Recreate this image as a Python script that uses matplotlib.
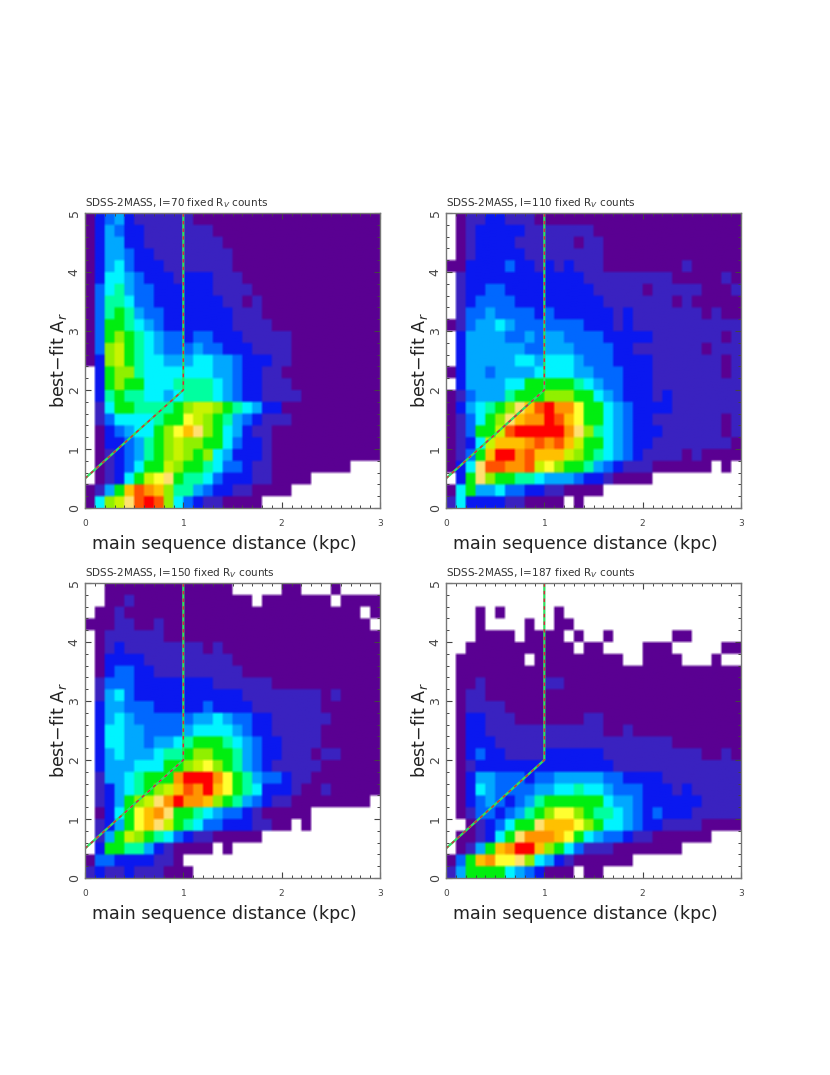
import numpy as np
import matplotlib
matplotlib.use("Agg")
import matplotlib.pyplot as plt
from matplotlib.colors import ListedColormap, BoundaryNorm

# colour level per cell (0 = lowest counts, 15 = highest, -1 = empty bin)
# every row goes from d=0 upwards, top row (A_r 4.8-5.0) first; short rows are padded with 0
counts_70 = [
    [0,2,3,4,2,1,1,1,1,1,1],
    [0,2,4,3,2,2,1,1,1,1,1,1,1],
    [0,2,4,4,2,2,1,1,1,1,1,1,1,1],
    [0,2,4,4,3,2,2,1,1,1,1,1,1,1,1],
    [0,2,4,5,3,2,2,2,1,1,1,1,1,1,1],
    [0,2,5,5,4,3,2,2,2,1,2,2,2,1,1,1],
    [0,3,5,6,4,3,3,2,2,2,2,2,2,1,1,1,1],
    [0,3,6,6,5,3,3,2,2,2,2,2,2,2,1,1,0,1],
    [0,3,6,7,6,4,3,3,2,2,2,2,2,2,2,1,1,1],
    [0,3,7,7,6,5,4,3,2,2,2,2,2,2,2,1,1,1,1],
    [0,3,7,8,7,6,5,4,3,3,2,3,3,2,2,2,1,1,1,1,1],
    [0,3,8,9,7,6,5,4,3,3,3,4,3,3,2,2,2,1,1,1,1],
    [0,2,8,9,7,6,5,5,4,4,4,5,5,4,4,3,2,2,2,1,1],
    [-1,2,7,8,8,6,5,5,5,5,5,5,5,4,4,3,2,2,1,1],
    [-1,2,7,8,7,7,5,5,5,6,6,6,6,5,4,3,2,2,1,1,1],
    [-1,2,6,7,6,6,5,5,4,5,6,6,6,5,4,3,2,2,1,1,1,1],
    [-1,1,5,7,7,6,6,6,6,7,8,9,9,8,7,6,5,4,2,2],
    [-1,1,3,5,5,5,5,6,7,7,10,9,8,7,6,4,3,2,1,1,1],
    [-1,0,2,3,4,5,5,7,8,10,12,11,8,7,5,4,2,1,1],
    [-1,0,2,2,3,4,6,7,8,9,8,8,7,7,5,3,2,2,1],
    [-1,0,1,2,3,4,6,7,8,9,8,7,8,5,4,2,2,2,1],
    [-1,0,1,2,3,5,7,7,9,8,7,7,6,5,3,3,2,1,1,0,0,0,0,0,0,0,0,-1,-1,-1],
    [-1,0,1,2,5,7,9,10,11,7,6,6,5,3,2,2,2,1,1,0,0,0,0,-1,-1,-1,-1,-1,-1,-1],
    [0,1,4,7,12,14,13,12,8,6,6,4,3,2,2,1,1,0,0,0,0,-1,-1,-1,-1,-1,-1,-1,-1,-1],
    [0,5,8,9,11,14,15,14,8,5,3,2,1,1,0,0,0,0,-1,-1,-1,-1,-1,-1,-1,-1,-1,-1,-1,-1],
]

counts_110 = [
    [-1,0,1,1,2,2,1,1,1],
    [-1,0,1,2,2,2,2,2,1,1,1,1,1,1,1],
    [-1,0,1,2,2,2,2,1,1,1,1,1,1,0,1,1],
    [-1,0,1,2,2,2,2,2,1,1,1,1,1,1,1,1],
    [0,0,2,2,2,2,3,2,2,1,2,1,2,1,1,1,0,0,0,0,0,0,0,0,1],
    [-1,1,2,2,2,2,2,2,2,2,2,2,2,2,1,1,1,1,1,1,1,1,1,0,0,0,0,0,1,0],
    [-1,1,2,2,3,3,2,2,2,2,2,2,2,2,2,1,1,1,1,1,0,1,1,1,1,1,0,0,0,1],
    [-1,1,2,3,3,3,3,2,2,2,2,2,2,2,2,2,1,1,1,1,1,1,1,0,1,0,0,0,0,0],
    [-1,1,3,3,4,3,3,3,3,2,3,2,2,2,2,2,2,1,2,1,1,1,1,1,1,1,0,1,0,0],
    [0,1,3,4,4,5,4,3,3,3,3,3,3,3,2,2,2,1,2,1,1,1,1,1,1,1,1,1,1,1],
    [-1,2,4,4,4,4,3,3,4,3,4,4,3,3,3,3,2,2,2,2,2,1,1,1,1,1,1,1,0,1],
    [-1,2,4,4,4,4,4,4,3,3,4,4,4,3,3,3,3,2,2,1,1,1,1,1,1,1,0,1,1,1],
    [-1,2,4,4,4,4,4,5,5,4,5,5,5,4,3,3,3,2,2,2,2,1,1,1,1,1,1,1,0,1],
    [0,2,4,4,3,4,4,4,4,5,5,5,5,4,4,3,3,3,2,2,2,1,1,1,1,1,1,1,0,1],
    [-1,2,4,4,4,4,5,5,7,7,7,7,7,6,5,4,3,3,2,2,2,1,1,1,1,1,1,1,1,1],
    [0,1,3,4,4,4,6,7,7,7,8,8,8,7,7,5,4,3,2,2,2,1,2,1,1,1,1,1,1,1],
    [0,2,4,5,6,7,8,11,12,14,15,13,13,10,7,7,5,4,3,2,2,2,2,1,1,1,1,1,1,1],
    [0,1,3,5,7,8,11,12,13,13,15,14,12,10,7,7,5,4,3,2,2,1,1,1,1,1,1,1,0,1],
    [0,1,3,7,7,9,14,15,15,15,15,15,13,11,8,6,5,4,3,2,2,2,1,1,1,1,1,1,0,1],
    [0,1,2,5,9,12,12,12,13,14,13,14,12,9,7,7,5,4,3,2,2,1,1,1,1,1,1,1,1,0],
    [0,1,3,7,12,15,15,13,14,12,12,12,9,8,7,6,5,4,3,2,1,1,1,1,0,1,0,0,0,0],
    [0,2,5,11,14,14,13,13,14,9,10,8,7,7,6,4,3,2,1,1,1,0,0,0,0,0,0,-1,0,-1],
    [-1,2,7,11,8,7,7,6,6,5,4,4,4,3,2,2,1,0,0,0,0,-1,-1,-1,-1,-1,-1,-1,-1,-1],
    [0,5,7,4,4,5,3,3,2,2,1,1,0,0,0,0,-1,-1,-1,-1,-1,-1,-1,-1,-1,-1,-1,-1,-1,-1],
    [1,5,2,2,2,2,1,1,0,0,0,0,-1,0,-1,-1,-1,-1,-1,-1,-1,-1,-1,-1,-1,-1,-1,-1,-1,-1],
]

counts_150 = [
    [-1,-1,0,0,0,0,0,0,0,0,0,0,0,0,0,-1,-1,-1,-1,-1,0,0,-1,-1,-1,0,-1,-1,-1,-1],
    [-1,-1,0,0,1,0,0,0,0,0,0,0,0,0,0,0,0,-1,0,0,0,0,0,0,0,-1,0,0,0,0],
    [-1,0,0,1,0,0,0,0,0,0,0,0,0,0,0,0,0,0,0,0,0,0,0,0,0,0,0,0,-1,0],
    [0,0,0,1,1,0,0,1,0,0,0,0,0,0,0,0,0,0,0,0,0,0,0,0,0,0,0,0,0,-1],
    [-1,0,1,1,1,1,1,1],
    [-1,0,1,2,1,1,1,1,1,1,1,1,0,1],
    [-1,0,2,2,2,2,1,1,1,1,1,1,1,1,1],
    [-1,0,2,3,3,2,2,1,1,1,1,1,1,1,1,1],
    [-1,1,3,3,3,2,2,2,2,2,2,2,2,1,1,1,1,1,1],
    [-1,1,4,5,3,2,2,2,2,2,2,2,2,2,2,2,1,1,1,1,1,1,1,1,0,1],
    [-1,2,4,4,3,3,3,2,2,2,2,2,3,2,2,2,2,1,1,1,1,1,1,1],
    [-1,2,4,5,4,3,3,3,3,3,3,4,4,5,4,3,3,2,2,1,1,1,1,1,1],
    [-1,2,5,5,4,4,3,3,3,3,4,5,5,5,5,4,3,2,2,1,1,1,1,1],
    [-1,2,5,5,4,4,3,4,4,5,6,7,7,7,6,5,4,3,2,2,1,1,1,1],
    [-1,2,4,5,4,4,4,5,6,6,7,8,8,7,7,6,4,3,2,2,1,1,1,0,1,1],
    [-1,2,4,4,4,5,5,5,7,7,8,9,10,8,7,6,4,3,2,1,1,1,1,1],
    [-1,1,4,4,5,6,7,7,7,13,15,15,15,13,10,7,6,4,3,3,2,1,1],
    [-1,1,2,4,5,6,7,8,9,12,14,13,15,12,10,7,6,5,2,2,2,1,0,0,1],
    [-1,1,2,4,7,8,9,11,13,15,13,13,12,8,7,6,4,3,2,1,1,0,0,0,0,0,0,0,0,-1],
    [-1,0,2,5,7,10,12,13,11,7,7,6,5,4,3,3,2,1,0,0,0,0,0,-1,-1,-1,-1,-1,-1,-1],
    [-1,1,2,4,7,10,12,11,9,7,6,5,3,3,2,2,2,1,1,0,0,-1,0,-1,-1,-1,-1,-1,-1,-1],
    [-1,1,4,7,9,8,7,6,5,3,2,1,1,0,0,0,0,0,-1,-1,-1,-1,-1,-1,-1,-1,-1,-1,-1,-1],
    [-1,2,7,7,6,6,4,2,1,0,0,0,0,-1,0,-1,-1,-1,-1,-1,-1,-1,-1,-1,-1,-1,-1,-1,-1,-1],
    [0,3,3,2,2,2,2,1,1,0,-1,-1,-1,-1,-1,-1,-1,-1,-1,-1,-1,-1,-1,-1,-1,-1,-1,-1,-1,-1],
    [1,2,1,1,2,1,1,1,0,0,0,-1,-1,-1,-1,-1,-1,-1,-1,-1,-1,-1,-1,-1,-1,-1,-1,-1,-1,-1],
]

counts_187 = [
    [-1]*30,
    [-1]*30,
    [-1,-1,-1,0,-1,0,-1,-1,-1,-1,-1,0,-1,-1,-1,-1,-1,-1,-1,-1,-1,-1,-1,-1,-1,-1,-1,-1,-1,-1],
    [-1,-1,-1,0,-1,-1,-1,-1,0,-1,-1,0,0,-1,-1,-1,-1,-1,-1,-1,-1,-1,-1,-1,-1,-1,-1,-1,-1,-1],
    [-1,-1,-1,0,0,0,0,-1,0,0,0,0,-1,0,-1,-1,0,-1,-1,-1,-1,-1,-1,0,0,-1,-1,-1,-1,-1],
    [-1,-1,0,0,0,0,0,0,0,0,0,0,0,-1,0,0,-1,-1,-1,-1,0,0,0,-1,-1,-1,-1,-1,0,0],
    [-1,0,0,0,0,0,0,0,-1,0,0,0,0,0,0,0,0,0,-1,-1,0,0,0,0,-1,-1,-1,0,-1,-1],
    [-1,0,0,0,0,0,0,0,0,0,0,0,0,0,0,0,0,0,0,0,0,0,0,0,0,0,0,0,0,0],
    [-1,0,0,1,0,0,0,0,0,0,1,1,0,0,0,0,0,0,0,0,0,0,0,0,0,0,0,0,0,0],
    [-1,0,1,1,0,0,0,0,0,0,0,0,0,0,0,0,0,0,0,0,0,0,0,0,0,0,0,0,0,0],
    [-1,0,1,1,1,1,0],
    [-1,0,2,2,1,1,1,0,0,0,0,0,0,0,1,1],
    [-1,0,2,2,1,1,1,1,1,1,1,1,1,1,1,1,0,0,1],
    [-1,0,2,2,2,1,1,1,1,1,1,1,1,1,1,1,1,1,1,1,1,1,1],
    [-1,0,2,3,2,2,1,1,1,1,2,2,2,2,2,2,1,1,1,1,1,1,1,1,1,1,0,0,1,0],
    [-1,0,1,2,2,2,2,2,2,2,2,2,2,2,2,2,2,1,1,1,1,1,1,1,1,1,1,1,1,1],
    [-1,0,2,4,4,3,3,3,2,3,3,4,4,4,4,4,3,3,2,2,2,2,1,1,1,1,1,1,1,1],
    [-1,0,2,5,4,3,3,3,3,4,4,5,5,6,5,5,4,3,3,3,2,2,2,1,2,1,1,1,1,1],
    [-1,0,2,3,4,3,2,3,4,6,7,7,7,7,7,7,5,4,4,3,2,2,2,2,2,2,1,1,1,1],
    [-1,0,1,3,3,2,3,4,6,7,8,10,10,8,7,6,6,5,4,3,2,3,2,2,2,1,1,1,1,1],
    [-1,-1,0,1,2,3,5,7,7,11,12,12,12,10,8,7,5,5,4,3,2,2,1,1,1,1,0,0,0,0],
    [-1,0,0,1,2,5,7,11,13,13,13,12,10,7,5,4,3,3,2,1,1,0,0,0,0,0,0,-1,-1,-1],
    [-1,0,1,4,7,12,13,15,15,12,8,7,5,3,1,1,1,0,0,0,0,0,0,0,-1,-1,-1,-1,-1,-1],
    [0,3,7,12,13,10,10,11,8,5,4,2,1,0,0,0,0,0,0,-1,-1,-1,-1,-1,-1,-1,-1,-1,-1,-1],
    [1,4,7,7,7,7,5,4,3,2,0,0,0,-1,0,0,-1,-1,-1,-1,-1,-1,-1,-1,-1,-1,-1,-1,-1,-1],
]

titles = ["SDSS-2MASS, l=70 fixed R$_V$ counts", "SDSS-2MASS, l=110 fixed R$_V$ counts",
          "SDSS-2MASS, l=150 fixed R$_V$ counts", "SDSS-2MASS, l=187 fixed R$_V$ counts"]
panels = [counts_70, counts_110, counts_150, counts_187]

# cut line drawn over each panel
line_x = [0, 1, 1]
line_y = [0.5, 2, 5]

level_colors = ["#5a0092", "#3a22c0", "#0a18f0", "#0068ff", "#00a8ff", "#00f4ff",
                "#00ffa0", "#00ee10", "#90f000", "#c8f400", "#ffff30", "#ffe070",
                "#ffc000", "#ff9400", "#ff5200", "#ff0000"]
cmap = ListedColormap(level_colors)
cmap.set_bad("white")
norm = BoundaryNorm(np.arange(-0.5, 16.5), cmap.N)

W, H = 830, 1075
fig = plt.figure(figsize=(W / 100, H / 100), dpi=100)

# left/top corner of each panel in pixels
corners = [(85, 213), (446, 213), (85, 583), (446, 583)]
size = 295
soft = 4  # the original raster is soft at cell edges

for rows, title, (px, py) in zip(panels, titles, corners):
    ax = fig.add_axes([px / W, 1 - (py + size) / H, size / W, size / H])

    grid = np.array([r + [0] * (30 - len(r)) for r in rows[::-1]], dtype=float)
    rgba = cmap(norm(np.ma.masked_less(grid, 0)))
    rgba = np.repeat(np.repeat(rgba, soft, axis=0), soft, axis=1)
    ax.imshow(rgba, extent=[0, 3, 0, 5], origin="lower", aspect="auto", interpolation="bilinear")

    ax.plot(line_x, line_y, color="#30e060", lw=1.6)
    ax.plot(line_x, line_y, color="#e02040", lw=1.0, dashes=(2.5, 3))

    ax.set_xlim(0, 3)
    ax.set_ylim(0, 5)
    ax.set_xticks([0, 1, 2, 3])
    ax.set_yticks([0, 1, 2, 3, 4, 5])
    ax.set_xticks(np.arange(0, 3.01, 0.1), minor=True)
    ax.set_yticks(np.arange(0, 5.01, 0.2), minor=True)
    ax.tick_params(which="major", direction="in", top=True, right=True, length=4, width=0.8,
                   color="#444444", labelcolor="#444444", labelsize=6.5, pad=8)
    ax.tick_params(which="minor", direction="in", top=True, right=True, length=2, width=0.7, color="#444444")
    ax.tick_params(axis="y", labelsize=9, pad=3)
    for t in ax.get_yticklabels():
        t.set_rotation(90)
        t.set_va("center")
    for s in ax.spines.values():
        s.set_color("#777777")
        s.set_linewidth(1.0)

    ax.set_xlabel("main sequence distance (kpc)", fontsize=12.6, color="#222222", labelpad=5, x=0.471)
    ax.set_ylabel("best$-$fit A$_r$", fontsize=12.6, color="#222222", labelpad=-1)
    ax.set_title(title, fontsize=7.5, loc="left", color="#333333", pad=5)

fig.savefig("out.png", dpi=100)
